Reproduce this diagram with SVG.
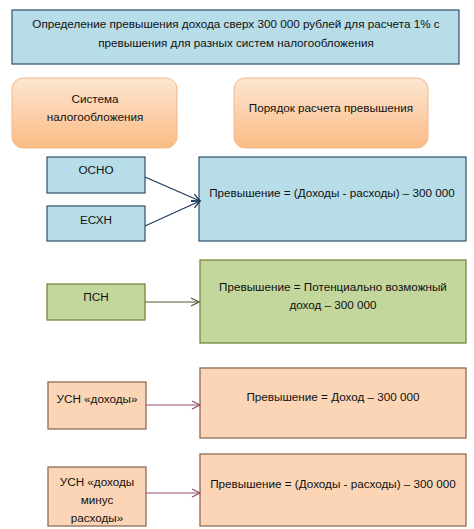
<svg xmlns="http://www.w3.org/2000/svg" width="474" height="529" viewBox="0 0 474 529">
<defs>
<linearGradient id="og" x1="0" y1="0" x2="0" y2="1">
<stop offset="0" stop-color="#fde6d3"/>
<stop offset="1" stop-color="#fbbb84"/>
</linearGradient>
<marker id="ab" viewBox="0 0 10 10" refX="9" refY="5" markerWidth="10" markerHeight="10" markerUnits="userSpaceOnUse" orient="auto">
<path d="M1,1 L9,5 L1,9" fill="none" stroke="#1f3b5c" stroke-width="1.3"/>
</marker>
<marker id="ag" viewBox="0 0 10 10" refX="9" refY="5" markerWidth="10" markerHeight="10" markerUnits="userSpaceOnUse" orient="auto">
<path d="M1,1 L9,5 L1,9" fill="none" stroke="#4f5b2c" stroke-width="1.2"/>
</marker>
<marker id="ap" viewBox="0 0 10 10" refX="9" refY="5" markerWidth="10" markerHeight="10" markerUnits="userSpaceOnUse" orient="auto">
<path d="M1,1 L9,5 L1,9" fill="none" stroke="#9a4f6e" stroke-width="1.2"/>
</marker>
</defs>
<style>
text{font-family:"Liberation Sans",Arial,sans-serif;font-size:11.7px;fill:#111;text-anchor:middle}
.blue{fill:#b7dde8;stroke:#3d5c73;stroke-width:1.3}
.green{fill:#c3d69b;stroke:#77873f;stroke-width:1.3}
.peach{fill:#fbd5b5;stroke:#8c6c55;stroke-width:1.3}
.head{fill:url(#og);stroke:#f2b78a;stroke-width:1}
</style>
<rect width="474" height="529" fill="#ffffff"/>
<g id="title">
<rect class="blue" x="12" y="10" width="447" height="54"/>
<text x="236" y="28">Определение превышения дохода сверх 300 000 рублей для расчета 1% с</text>
<text x="236" y="47">превышения для разных систем налогообложения</text>
</g>
<g id="head-system">
<rect class="head" x="12" y="78" width="165" height="70" rx="11"/>
<text x="95" y="103">Система</text>
<text x="95" y="121">налогообложения</text>
</g>
<g id="head-order">
<rect class="head" x="234" y="78" width="194" height="70" rx="11"/>
<text x="331" y="112">Порядок расчета превышения</text>
</g>
<g id="osno">
<rect class="blue" x="47" y="157" width="98" height="36"/>
<text x="96" y="174">ОСНО</text>
</g>
<g id="eshn">
<rect class="blue" x="47" y="206" width="98" height="35"/>
<text x="96" y="224">ЕСХН</text>
</g>
<g id="res-blue">
<rect class="blue" x="199" y="157" width="267" height="84"/>
<text x="332" y="197">Превышение = (Доходы - расходы) – 300 000</text>
</g>
<g id="psn">
<rect class="green" x="47" y="284" width="98" height="36"/>
<text x="96" y="301">ПСН</text>
</g>
<g id="res-green">
<rect class="green" x="200" y="260" width="266" height="83"/>
<text x="333" y="291">Превышение = Потенциально возможный</text>
<text x="333" y="309">доход – 300 000</text>
</g>
<g id="usn-d">
<rect class="peach" x="48" y="382" width="98" height="47"/>
<text x="97" y="403">УСН «доходы»</text>
</g>
<g id="res-usn-d">
<rect class="peach" x="200" y="368" width="266" height="70"/>
<text x="333" y="401">Превышение = Доход – 300 000</text>
</g>
<g id="usn-dr">
<rect class="peach" x="48" y="467" width="98" height="59"/>
<text x="97" y="486">УСН «доходы</text>
<text x="97" y="504">минус</text>
<text x="97" y="522">расходы»</text>
</g>
<g id="res-usn-dr">
<rect class="peach" x="200" y="454" width="266" height="72"/>
<text x="333" y="488">Превышение = (Доходы - расходы) – 300 000</text>
</g>
<g id="connectors" fill="none">
<line x1="145" y1="177" x2="200" y2="201" stroke="#1f3b5c" stroke-width="1.3" marker-end="url(#ab)"/>
<line x1="145" y1="226" x2="200" y2="201" stroke="#1f3b5c" stroke-width="1.3" marker-end="url(#ab)"/>
<line x1="145" y1="302" x2="199" y2="302" stroke="#4f5b2c" stroke-width="1.2" marker-end="url(#ag)"/>
<line x1="146" y1="405" x2="200" y2="405" stroke="#9a4f6e" stroke-width="1.2" marker-end="url(#ap)"/>
<line x1="146" y1="493" x2="200" y2="493" stroke="#9a4f6e" stroke-width="1.2" marker-end="url(#ap)"/>
</g>
</svg>
